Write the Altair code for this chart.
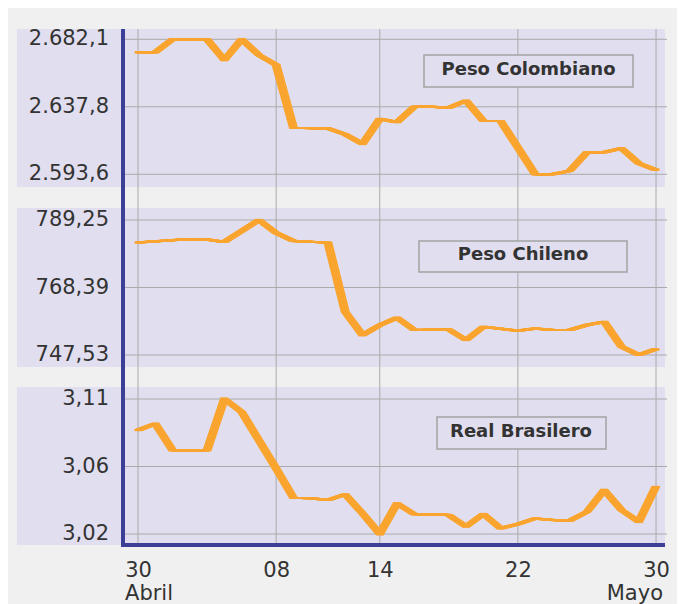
import altair as alt
import pandas as pd

# ---------------- data ----------------
x_tick_days = [0, 8, 14, 22, 30]
x_tick_labels = ["30", "08", "14", "22", "30"]
month_labels = ["Abril", "Mayo"]
month_days = [0, 30]

series_names = ["Peso Colombiano", "Peso Chileno", "Real Brasilero"]

cop_days = [0, 1, 2, 4, 5, 6, 7, 8, 9, 11, 12, 13, 14, 15, 16, 17, 18, 19, 20, 21,
            23, 24, 25, 26, 27, 28, 29, 30]
cop_vals = [2673.6, 2673.6, 2682.1, 2682.1, 2668.5, 2682.1, 2671.8, 2665.3, 2624.1,
            2623.7, 2619.8, 2613.5, 2629.9, 2627.7, 2637.9, 2637.9, 2637.3, 2641.9,
            2628.6, 2628.6, 2593.6, 2593.6, 2595.8, 2608.0, 2608.0, 2610.6, 2600.8,
            2596.4]
cop_ticks = [2593.6, 2637.85, 2682.1]
cop_tick_labels = ["2.593,6", "2.637,8", "2.682,1"]

clp_days = [0, 3, 4, 5, 7, 8, 9, 11, 12, 13, 14, 15, 16, 18, 19, 20, 22, 23, 24, 25,
            26, 27, 28, 29, 30]
clp_vals = [782.26, 783.39, 783.19, 782.47, 789.25, 785.24, 782.78, 782.26, 760.89,
            753.69, 756.78, 759.04, 755.24, 755.44, 752.15, 756.26, 755.03, 755.75,
            755.24, 755.24, 756.78, 757.81, 750.10, 747.53, 749.38]
clp_ticks = [747.53, 768.39, 789.25]
clp_tick_labels = ["747,53", "768,39", "789,25"]

brl_days = list(range(0, 31))
brl_vals = [3.0892, 3.0936, 3.0759, 3.0756, 3.0759, 3.1100, 3.1014, 3.0825, 3.0637,
            3.0442, 3.0439, 3.0426, 3.0464, 3.0337, 3.0200, 3.0404, 3.0331, 3.0333,
            3.0326, 3.0249, 3.0333, 3.0238, 3.0266, 3.0304, 3.0293, 3.0289, 3.0348,
            3.0493, 3.0360, 3.0282, 3.0519]
brl_ticks = [3.02, 3.065, 3.11]
brl_tick_labels = ["3,02", "3,06", "3,11"]

# ---------------- style ----------------
W, H = 542, 516
LAV = "#e1deef"
GRAY_BG = "#f0f0f0"
GRID = "#aaaaaa"
BLUE = "#3c3f96"
ORANGE = "#f9a530"
TXT = "#333333"
FONT = "DejaVu Sans"
OFFSETS = [i * 0.5 for i in range(-7, 8)]

one = pd.DataFrame({"k": [0]})

expr = " : ".join(
    f"datum.value == {d} ? '{l}'" for d, l in zip(x_tick_days, x_tick_labels)
) + " : ''"

X = alt.X(
    "day:Q",
    scale=alt.Scale(domain=[-0.87, 30.52], nice=False, zero=False),
    axis=alt.Axis(
        values=x_tick_days, labelExpr=expr, grid=False, domain=False, ticks=False,
        labelFont=FONT, labelFontSize=21, labelColor=TXT, labelPadding=14,
        title=None, labelFlush=False, labelOverlap=False,
    ),
)


def bg_rect(y0, y1):
    return alt.Chart(one).mark_rect(color=LAV).encode(
        x=alt.value(-106), x2=alt.value(W), y=alt.value(y0), y2=alt.value(y1)
    )


def panel(days, vals, ticks, tick_labels, yrange, name, box, tpos):
    df = pd.DataFrame({"day": days, "value": vals})
    tdf = pd.DataFrame({"value": ticks, "label": tick_labels})
    ndf = pd.DataFrame({"name": [name]})
    ys = alt.Scale(domain=[ticks[0], ticks[-1]], range=yrange, nice=False, zero=False)
    Y = alt.Y("value:Q", scale=ys, axis=None)
    grid = alt.Chart(tdf).mark_rule(color=GRID, strokeWidth=1).encode(
        y=Y, x=alt.value(0), x2=alt.value(W + 2)
    )
    labs = alt.Chart(tdf).mark_text(
        align="right", baseline="middle", font=FONT, fontSize=21, color=TXT
    ).encode(y=Y, x=alt.value(-14), text="label:N")
    lines = [
        alt.Chart(df).mark_line(color=ORANGE, strokeWidth=2, xOffset=o).encode(x=X, y=Y)
        for o in OFFSETS
    ]
    brect = alt.Chart(ndf).mark_rect(fill=LAV, stroke="#a3a3a3", strokeWidth=1.5).encode(
        x=alt.value(box[0]), x2=alt.value(box[1]), y=alt.value(box[2]), y2=alt.value(box[3])
    )
    btxt = alt.Chart(ndf).mark_text(
        font=FONT, fontSize=18, fontWeight="bold", color=TXT, align="center", baseline="middle"
    ).encode(x=alt.value(tpos[0]), y=alt.value(tpos[1]), text="name:N")
    return alt.layer(grid, *lines, labs, brect, btxt)


vgrid = alt.Chart(pd.DataFrame({"day": x_tick_days})).mark_rule(
    color=GRID, strokeWidth=1
).encode(x=X, y=alt.value(0), y2=alt.value(H))

p1 = panel(cop_days, cop_vals, cop_ticks, cop_tick_labels, [145.3, 10.3],
           series_names[0], (301, 510, 26, 58), (405.5, 41))
p2 = panel(clp_days, clp_vals, clp_ticks, clp_tick_labels, [326, 191],
           series_names[1], (296, 504, 212, 243), (400, 226))
p3 = panel(brl_days, brl_vals, brl_ticks, brl_tick_labels, [505, 370],
           series_names[2], (314, 483, 388, 420), (398, 403))

yline = alt.Chart(one).mark_rule(color=BLUE, strokeWidth=4).encode(
    x=alt.value(0), y=alt.value(0), y2=alt.value(H + 2)
)
xline = alt.Chart(one).mark_rule(color=BLUE, strokeWidth=4).encode(
    x=alt.value(-2), x2=alt.value(W), y=alt.value(H)
)

mdf = pd.DataFrame({"day": month_days, "label": month_labels})
m1 = alt.Chart(mdf.iloc[[0]]).mark_text(
    align="left", baseline="alphabetic", font=FONT, fontSize=21, color=TXT, dx=-13
).encode(x=X, y=alt.value(H + 55), text="label:N")
m2 = alt.Chart(mdf.iloc[[1]]).mark_text(
    align="right", baseline="alphabetic", font=FONT, fontSize=21, color=TXT, dx=7
).encode(x=X, y=alt.value(H + 55), text="label:N")

chart = alt.layer(
    bg_rect(0, 158), bg_rect(179, 338), bg_rect(358, H),
    vgrid, p1, p2, p3, yline, xline, m1, m2,
).resolve_scale(y="independent").properties(
    width=W, height=H, background=GRAY_BG,
    padding={"left": 115, "top": 21, "right": 12, "bottom": 70},
    autosize=alt.AutoSizeParams(type="none"),
).configure_view(stroke=None)

chart.save("out.html", embed_options={"renderer": "svg", "actions": False})
